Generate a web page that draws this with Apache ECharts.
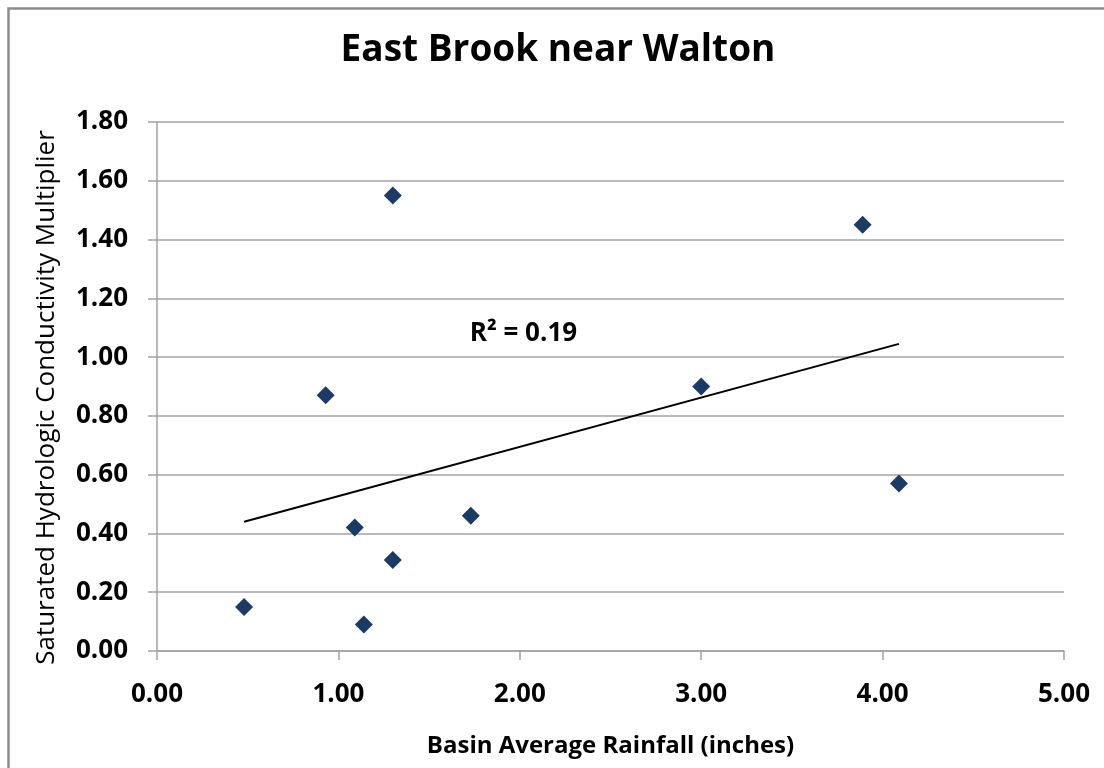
<!DOCTYPE html>
<html>
<head>
<meta charset="utf-8">
<title>East Brook near Walton</title>
<script src="https://cdn.jsdelivr.net/npm/echarts@6/dist/echarts.min.js"></script>
<style>
  html, body { margin: 0; padding: 0; background: #fff; }
  #chart { width: 1104px; height: 768px; }
</style>
</head>
<body>
<div id="chart"></div>
<script>
  // rainfall (inches) vs conductivity multiplier
  var rainfall = [0.48, 1.14, 1.09, 1.30, 1.73, 0.93, 1.30, 3.00, 3.89, 4.09];
  var multiplier = [0.15, 0.09, 0.42, 0.31, 0.46, 0.87, 1.55, 0.90, 1.45, 0.57];
  // linear trendline end points (as drawn)
  var trendX = [0.48, 4.09];
  var trendY = [0.44, 1.045];
  var rSquaredText = 'R\u00b2 = 0.19';
  var xTicks = [0, 1, 2, 3, 4, 5];
  var yTicks = [0, 0.2, 0.4, 0.6, 0.8, 1.0, 1.2, 1.4, 1.6, 1.8];

  var fontName = 'Open Sans';
  var gridColor = '#a3a3a3';

  var chart = echarts.init(document.getElementById('chart'));

  var points = rainfall.map(function (x, i) { return [x, multiplier[i]]; });
  var trend = trendX.map(function (x, i) { return [x, trendY[i]]; });

  chart.setOption({
    animation: false,
    backgroundColor: '#fff',
    textStyle: { fontFamily: fontName },
    title: {
      text: 'East Brook near Walton',
      left: 553,
      textAlign: 'center',
      top: 27,
      textStyle: { fontFamily: fontName, fontSize: 37, fontWeight: 'bold', color: '#000' }
    },
    graphic: [{
      type: 'rect',
      left: 6,
      top: 6,
      shape: { width: 1200, height: 900 },
      style: { fill: 'none', stroke: '#8c8c8c', lineWidth: 2.5 },
      silent: true
    }],
    grid: { left: 157, right: 40, top: 122, bottom: 117 },
    xAxis: {
      type: 'value',
      min: xTicks[0],
      max: xTicks[xTicks.length - 1],
      interval: 1,
      name: 'Basin Average Rainfall (inches)',
      nameLocation: 'middle',
      nameGap: 83,
      nameTextStyle: { fontFamily: fontName, fontSize: 24, fontWeight: 'bold', color: '#000' },
      axisLine: { show: true, lineStyle: { color: gridColor, width: 1.5 } },
      axisTick: { show: true, length: 9, inside: false, lineStyle: { color: gridColor, width: 1.5 } },
      splitLine: { show: false },
      axisLabel: {
        margin: 31,
        fontFamily: fontName, fontSize: 26, fontWeight: 'bold', color: '#000',
        formatter: function (v) { return v.toFixed(2); }
      }
    },
    yAxis: {
      type: 'value',
      min: yTicks[0],
      max: yTicks[yTicks.length - 1],
      interval: 0.2,
      name: 'Saturated Hydrologic Conductivity Multiplier',
      nameLocation: 'middle',
      nameGap: 97,
      nameTextStyle: { fontFamily: fontName, fontSize: 26, color: '#000', padding: [0, 22, 0, 0] },
      axisLine: { show: true, lineStyle: { color: gridColor, width: 1.5 } },
      axisTick: { show: true, length: 9, inside: false, lineStyle: { color: gridColor, width: 1.5 } },
      splitLine: { show: true, lineStyle: { color: gridColor, width: 1.5 } },
      axisLabel: {
        margin: 29,
        fontFamily: fontName, fontSize: 26, fontWeight: 'bold', color: '#000',
        formatter: function (v) { return v.toFixed(2); }
      }
    },
    series: [
      {
        name: 'trend',
        type: 'line',
        data: trend,
        symbol: 'none',
        lineStyle: { color: '#000', width: 2 },
        z: 3,
        markPoint: {
          symbol: 'circle',
          symbolSize: 0,
          data: [{ coord: [2.02, 1.08] }],
          label: {
            show: true,
            position: 'inside',
            formatter: rSquaredText,
            fontFamily: fontName, fontSize: 26, fontWeight: 'bold', color: '#000'
          }
        }
      },
      {
        name: 'observed',
        type: 'scatter',
        data: points,
        symbol: 'diamond',
        symbolSize: [18, 18],
        itemStyle: { color: '#1b3a66', opacity: 1 },
        z: 4
      }
    ]
  });
</script>
</body>
</html>
